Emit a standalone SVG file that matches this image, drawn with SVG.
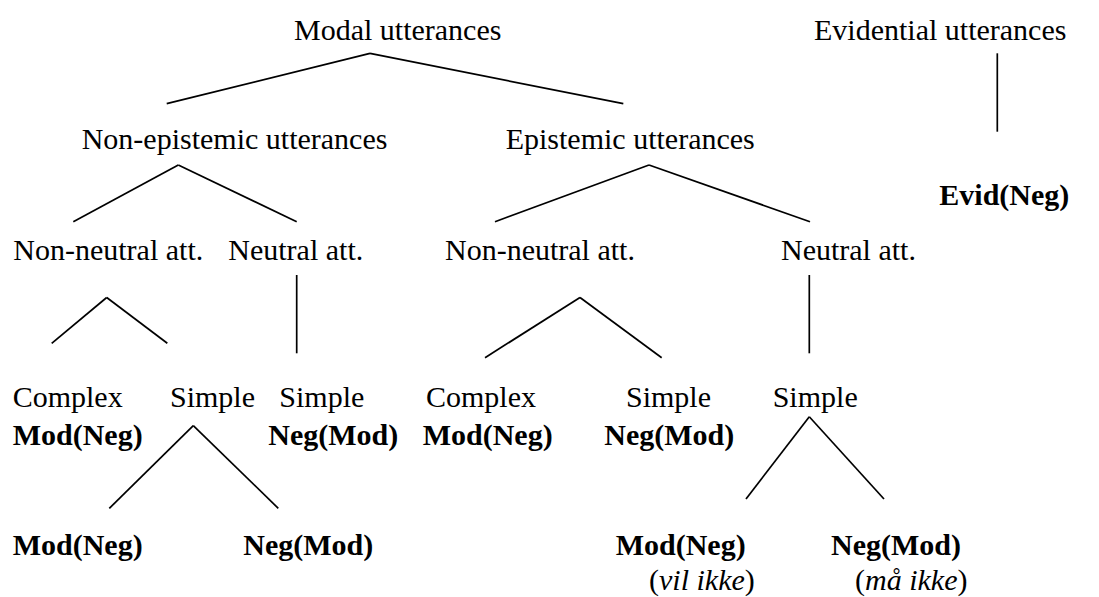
<svg xmlns="http://www.w3.org/2000/svg" width="1099" height="597" viewBox="0 0 1099 597">
<style>
text{font-family:"Liberation Serif","Times New Roman",serif;font-size:30px;fill:#000}
.b{font-weight:bold}
.i{font-style:italic}
.c line{stroke:#000;stroke-width:1.7;fill:none}
</style>
<rect width="1099" height="597" fill="#fff"/>
<g class="c" id="connectors">
<line x1="370" y1="53.3" x2="166.7" y2="103.7"/>
<line x1="370" y1="53.3" x2="623.3" y2="103.7"/>
<line x1="997.3" y1="53.3" x2="997.3" y2="131.7"/>
<line x1="178.3" y1="165" x2="73.3" y2="221.7"/>
<line x1="178.3" y1="165" x2="296.7" y2="221.7"/>
<line x1="649" y1="165" x2="495" y2="221.7"/>
<line x1="649" y1="165" x2="810" y2="221.7"/>
<line x1="106.7" y1="297.5" x2="51.7" y2="343.3"/>
<line x1="106.7" y1="297.5" x2="167.3" y2="343.3"/>
<line x1="296.7" y1="275" x2="296.7" y2="353.3"/>
<line x1="580" y1="297.5" x2="485" y2="357.7"/>
<line x1="580" y1="297.5" x2="661.7" y2="357.7"/>
<line x1="809.3" y1="275" x2="809.3" y2="353.3"/>
<line x1="193.3" y1="425.7" x2="109.3" y2="508.3"/>
<line x1="193.3" y1="425.7" x2="278.3" y2="508.3"/>
<line x1="809.3" y1="416.7" x2="746" y2="499"/>
<line x1="809.3" y1="416.7" x2="884" y2="499"/>
</g>
<g id="modal"><text x="294" y="40">Modal utterances</text></g>
<g id="evidential"><text x="814" y="40">Evidential utterances</text></g>
<g id="evid-neg"><text class="b" x="939.3" y="205">Evid(Neg)</text></g>
<g id="non-epistemic"><text x="81.7" y="149">Non-epistemic utterances</text></g>
<g id="epistemic"><text x="505.7" y="149">Epistemic utterances</text></g>
<g id="ne-nonneutral"><text x="13.3" y="260">Non-neutral att.</text></g>
<g id="ne-neutral"><text x="228.3" y="260">Neutral att.</text></g>
<g id="e-nonneutral"><text x="445" y="260">Non-neutral att.</text></g>
<g id="e-neutral"><text x="781" y="260">Neutral att.</text></g>
<g id="ne-complex"><text x="12.7" y="406.7">Complex</text><text class="b" x="12.7" y="445">Mod(Neg)</text></g>
<g id="ne-simple1"><text x="170" y="406.7">Simple</text></g>
<g id="ne-simple2"><text x="279.3" y="406.7">Simple</text><text class="b" x="268.3" y="445">Neg(Mod)</text></g>
<g id="e-complex"><text x="426" y="406.7">Complex</text><text class="b" x="422.7" y="445">Mod(Neg)</text></g>
<g id="e-simple1"><text x="626" y="406.7">Simple</text><text class="b" x="604.3" y="445">Neg(Mod)</text></g>
<g id="e-simple2"><text x="772.7" y="406.7">Simple</text></g>
<g id="ne-modneg"><text class="b" x="12.7" y="555">Mod(Neg)</text></g>
<g id="ne-negmod"><text class="b" x="243.3" y="555">Neg(Mod)</text></g>
<g id="e-modneg"><text class="b" x="615.7" y="555">Mod(Neg)</text><text x="649" y="590">(<tspan class="i">vil ikke</tspan>)</text></g>
<g id="e-negmod"><text class="b" x="831" y="555">Neg(Mod)</text><text x="855" y="590">(<tspan class="i">må ikke</tspan>)</text></g>
</svg>
